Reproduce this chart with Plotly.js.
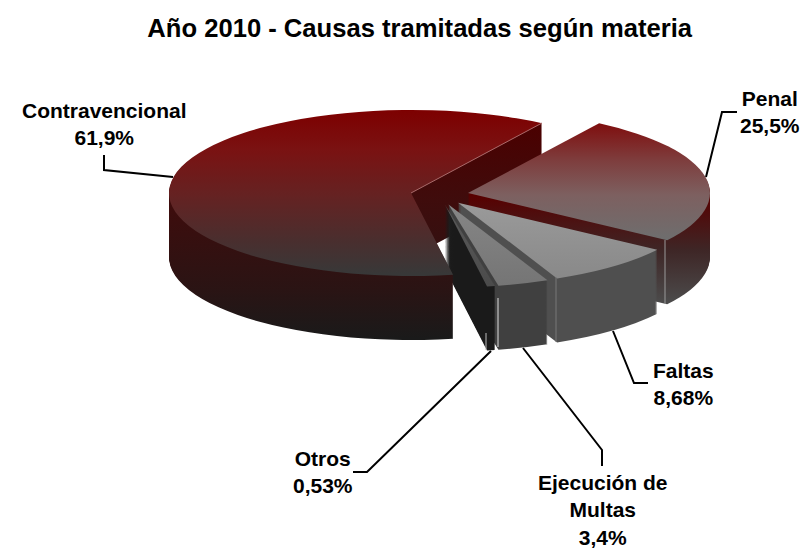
<!DOCTYPE html>
<html>
<head>
<meta charset="utf-8">
<script src="https://cdn.plot.ly/plotly-3.0.1.min.js"></script>
<style>html,body{margin:0;padding:0;background:#fff}#chart{width:801px;height:548px}</style>
</head>
<body>
<div id="chart"></div>
<script>
var categories = ['Contravencional', 'Penal', 'Faltas', 'Ejecución de Multas', 'Otros'];
var values = [61.9, 25.5, 8.68, 3.4, 0.53];
var pulls = [0.12, 0.12, 0.12, 0.12, 0.12];
var labelLines = ['Contravencional<br>61,9%', 'Penal<br>25,5%', 'Faltas<br>8,68%', 'Ejecución de<br>Multas<br>3,4%', 'Otros<br>0,53%'];
var labelX = [104.5, 770, 683, 602.5, 323];
var labelY = [124, 112, 384, 510, 472];
var leaderPaths = ['M104,155 L104,170 L173,177', 'M737,112 L722,112 L706,177', 'M613,331 L634,383 L648,383', 'M523,348 L602,450 L602,466', 'M491,351 L367,472 L353,472'];
var glintPaths = ['M411,193 L542,123', 'M665,240 L665,304', 'M556,277 L556,342', 'M498,298 L498,347', 'M486,333 L486,350'];
var glintColors = ['#a86a6a', '#9a9a9a', '#787878', '#dddddd', '#bbbbbb'];
var titleText = 'Año 2010 - Causas tramitadas según materia';

var topStops = [
  [[110,'#7d0000'],[150,'#7a1212'],[195,'#652222'],[240,'#4a2e2e'],[274,'#383838']],
  [[124,'#7f0f0f'],[160,'#7e3d3d'],[195,'#7d6060'],[240,'#6e6e6e']],
  [[203,'#9a9a9a'],[290,'#868686']],
  [[204,'#868686'],[300,'#727272']],
  [[204,'#5a5a5a'],[300,'#484848']]
];
var wallStops = [
  [[123,'#4b0000'],[200,'#3f0c0c'],[290,'#2a1414'],[338,'#1a1a1a']],
  [[195,'#580000'],[250,'#3e2626'],[304,'#4c4c4c']],
  [[203,'#4f4f4f'],[344,'#4f4f4f']],
  [[204,'#404040'],[348,'#404040']],
  [[204,'#1a1a1a'],[352,'#1a1a1a']]
];

var W = 801, H = 548;
var layerCount = 65;
var scaleX = 2, scaleY = 0.686;
var layoutCx = 200, topCy = 170;
var screenCx = 439.5, screenCy = 195;
var depthPx = 64;
var tx = screenCx - scaleX * layoutCx;
var ty = screenCy - scaleY * topCy;
var layoutStep = (depthPx / scaleY) / (layerCount - 1);
var pieBox = 121 * 2 * 1.12;
var halfTall = 150;

var traces = [];
for (var k = 0; k < layerCount; k++) {
  var c = topCy + (layerCount - 1 - k) * layoutStep;
  traces.push({
    type: 'pie',
    labels: categories,
    values: values,
    pull: pulls,
    sort: false,
    direction: 'clockwise',
    rotation: 170,
    textinfo: 'none',
    hoverinfo: 'label+percent',
    showlegend: false,
    marker: {colors: ['#6b1010', '#7a4040', '#909090', '#7a7a7a', '#505050'], line: {width: 0}},
    domain: {
      x: [(layoutCx - pieBox / 2) / W, (layoutCx + pieBox / 2) / W],
      y: [1 - (c + halfTall) / H, 1 - (c - halfTall) / H]
    }
  });
}

var annFont = {family: 'Liberation Sans, Arial, sans-serif', size: 21, color: '#000', weight: 700};
var annotations = labelLines.map(function (t, i) {
  return {text: t, x: labelX[i] / W, y: 1 - labelY[i] / H, xref: 'paper', yref: 'paper',
    xanchor: 'center', yanchor: 'middle', showarrow: false, font: annFont, align: 'center'};
});
function toPaper(p) {
  var pts = p.replace(/[ML]/g, '').trim().split(/\s+/).map(function (s) {
    var a = s.split(','); return (a[0] / W) + ',' + (1 - a[1] / H);
  });
  return 'M' + pts.join(' L');
}
var shapes = leaderPaths.map(function (p) {
  return {type: 'path', path: toPaper(p), xref: 'paper', yref: 'paper', fillcolor: 'rgba(0,0,0,0)', line: {color: '#000', width: 2}};
}).concat(glintPaths.map(function (p, i) {
  return {type: 'path', path: toPaper(p), xref: 'paper', yref: 'paper', fillcolor: 'rgba(0,0,0,0)', line: {color: glintColors[i], width: 1}};
}));

var layout = {
  width: W, height: H,
  margin: {l: 0, r: 0, t: 0, b: 0},
  paper_bgcolor: '#fff',
  showlegend: false,
  title: {text: titleText, x: 0.524, y: 0.949, xanchor: 'center', yanchor: 'middle',
    font: {family: 'Liberation Sans, Arial, sans-serif', size: 25.6, color: '#000', weight: 700}},
  annotations: annotations,
  shapes: shapes
};

Plotly.newPlot('chart', traces, layout, {displayModeBar: false, staticPlot: true}).then(function (gd) {
  var svg = gd.querySelector('svg.main-svg');
  var NS = 'http://www.w3.org/2000/svg';
  var defs = document.createElementNS(NS, 'defs');
  function addGrad(id, stops) {
    var g = document.createElementNS(NS, 'linearGradient');
    g.setAttribute('id', id);
    g.setAttribute('gradientUnits', 'userSpaceOnUse');
    var y1 = stops[0][0], y2 = stops[stops.length - 1][0];
    g.setAttribute('x1', 0); g.setAttribute('x2', 0);
    g.setAttribute('y1', (y1 - ty) / scaleY);
    g.setAttribute('y2', (y2 - ty) / scaleY);
    stops.forEach(function (s) {
      var st = document.createElementNS(NS, 'stop');
      st.setAttribute('offset', (s[0] - y1) / (y2 - y1));
      st.setAttribute('stop-color', s[1]);
      g.appendChild(st);
    });
    defs.appendChild(g);
  }
  categories.forEach(function (_, i) {
    addGrad('wallGrad' + i, wallStops[i]);
    addGrad('topGrad' + i, topStops[i]);
  });
  svg.insertBefore(defs, svg.firstChild);
  var layer = gd.querySelector('.pielayer');
  layer.setAttribute('transform', 'matrix(' + scaleX + ',0,0,' + scaleY + ',' + tx + ',' + ty + ')');
  var groups = gd.querySelectorAll('.pielayer .trace');
  groups.forEach(function (grp, k) {
    var isTop = k === groups.length - 1;
    grp.querySelectorAll('.slice').forEach(function (sl, i) {
      var path = sl.querySelector('path.surface');
      if (!path) return;
      path.style.fill = 'url(#' + (isTop ? 'topGrad' : 'wallGrad') + i + ')';
      path.style.stroke = 'none';
      path.style.strokeWidth = '0';
    });
  });
});
</script>
</body>
</html>
